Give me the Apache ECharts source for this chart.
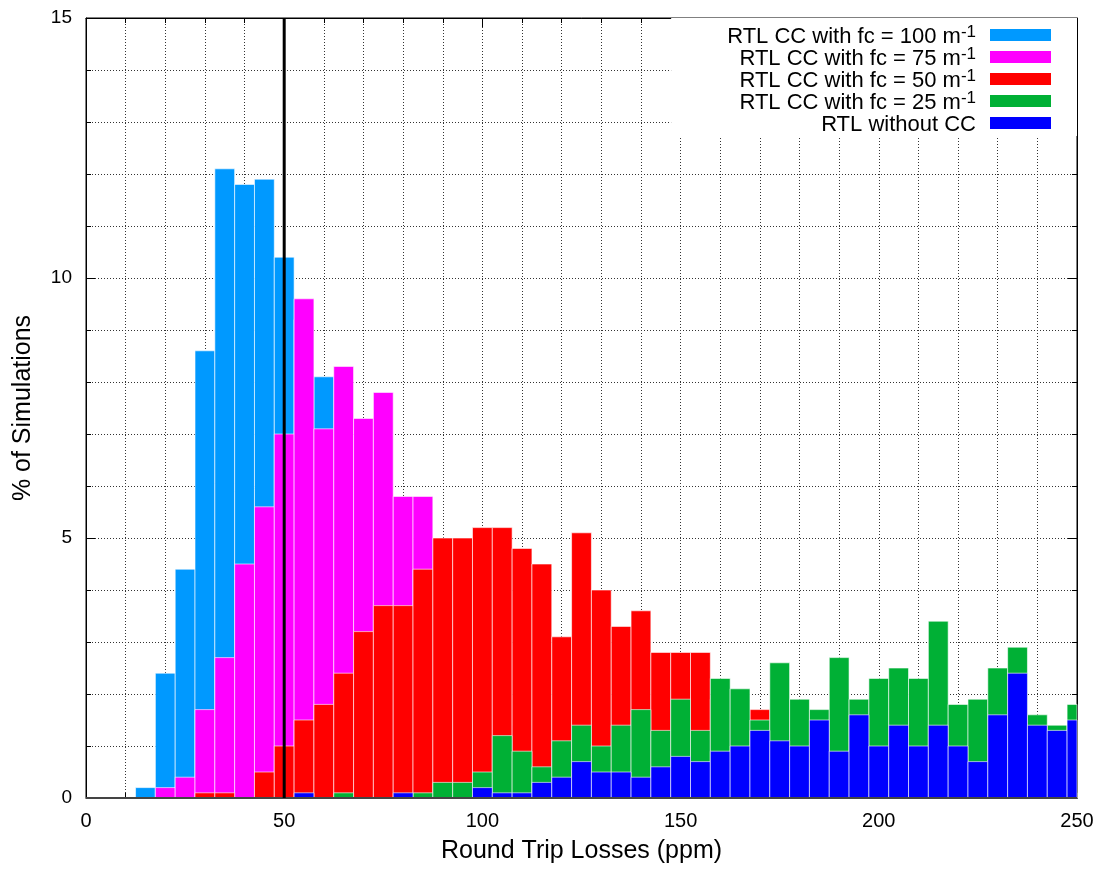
<!DOCTYPE html>
<html>
<head>
<meta charset="utf-8">
<title>Round Trip Losses histogram</title>
<script src="https://cdn.jsdelivr.net/npm/echarts@6/dist/echarts.min.js"></script>
<style>
  html, body { margin: 0; padding: 0; background: #fff; }
  #chart { width: 1097px; height: 870px; }
</style>
</head>
<body>
<div id="chart"></div>
<script>
// Histogram bins: centre of each 5 ppm wide bin
const binCenters = [15, 20, 25, 30, 35, 40, 45, 50, 55, 60, 65, 70, 75, 80, 85, 90,
  95, 100, 105, 110, 115, 120, 125, 130, 135, 140, 145, 150, 155, 160, 165, 170,
  175, 180, 185, 190, 195, 200, 205, 210, 215, 220, 225, 230, 235, 240, 245, 250];
const binWidth = 5;

// % of simulations per bin, one array per configuration
const rtlFc100 = [0.2, 2.4, 4.4, 8.6, 12.1, 11.8, 11.9, 10.4, 9.2, 8.1, 6.3, 4.6, 3.4, 2.3, 1.5, 0.9,
  0.6, 0.4, 0.2, 0.1, 0, 0, 0, 0, 0, 0, 0, 0, 0, 0, 0, 0,
  0, 0, 0, 0, 0, 0, 0, 0, 0, 0, 0, 0, 0, 0, 0, 0];
const rtlFc75 = [0, 0.2, 0.4, 1.7, 2.7, 4.5, 5.6, 7.0, 9.6, 7.1, 8.3, 7.3, 7.8, 5.8, 5.8, 4.1,
  3.3, 2.6, 1.9, 1.4, 1.0, 0.7, 0.5, 0.3, 0.2, 0.1, 0, 0, 0, 0, 0, 0,
  0, 0, 0, 0, 0, 0, 0, 0, 0, 0, 0, 0, 0, 0, 0, 0];
const rtlFc50 = [0, 0, 0, 0.1, 0.1, 0, 0.5, 1.0, 1.5, 1.8, 2.4, 3.2, 3.7, 3.7, 4.4, 5.0,
  5.0, 5.2, 5.2, 4.8, 4.5, 3.1, 5.1, 4.0, 3.3, 3.6, 2.8, 2.8, 2.8, 1.9, 1.6, 1.7,
  1.2, 0.9, 0.7, 0.6, 0.4, 0.3, 0.2, 0.2, 0.1, 0.1, 0.1, 0.1, 0.1, 0.1, 0.1, 0.1];
const rtlFc25 = [0, 0, 0, 0, 0, 0, 0, 0, 0, 0, 0.1, 0, 0, 0, 0.1, 0.3,
  0.3, 0.5, 1.2, 0.9, 0.6, 1.1, 1.4, 1.0, 1.4, 1.7, 1.3, 1.9, 1.3, 2.3, 2.1, 1.5,
  2.6, 1.9, 1.7, 2.7, 1.9, 2.3, 2.5, 2.3, 3.4, 1.8, 1.9, 2.5, 2.9, 1.6, 1.4, 1.8];
const rtlNoCC = [0, 0, 0, 0, 0, 0, 0, 0, 0.1, 0, 0, 0, 0, 0.1, 0, 0,
  0, 0.2, 0.1, 0.1, 0.3, 0.4, 0.7, 0.5, 0.5, 0.4, 0.6, 0.8, 0.7, 0.9, 1.0, 1.3,
  1.1, 1.0, 1.5, 0.9, 1.6, 1.0, 1.4, 1.0, 1.4, 1.0, 0.7, 1.6, 2.4, 1.4, 1.3, 1.5];

// Legend labels: main text and superscript unit exponent
const seriesNames = ['RTL CC with fc = 100 m-1', 'RTL CC with fc = 75 m-1',
  'RTL CC with fc = 50 m-1', 'RTL CC with fc = 25 m-1', 'RTL without CC'];
const legendMain = ['RTL CC with fc = 100 m', 'RTL CC with fc = 75 m',
  'RTL CC with fc = 50 m', 'RTL CC with fc = 25 m', 'RTL without CC'];
const legendSup = ['-1', '-1', '-1', '-1', ''];
const seriesValues = [rtlFc100, rtlFc75, rtlFc50, rtlFc25, rtlNoCC];
const seriesColors = ['#0099ff', '#ff00ff', '#ff0000', '#00b035', '#0000ff'];

// Reference loss marked with a vertical line
const referenceLoss = 50;

const xRange = [0, 250];
const yRange = [0, 15];

const FONT = '"Liberation Sans", Arial, Helvetica, sans-serif';
const gridLine = { color: '#333', width: 1, type: [1, 2] };

function renderBin(params, api) {
  const center = api.value(0);
  const value = api.value(1);
  if (!value) return null;
  const topLeft = api.coord([center - binWidth / 2, value]);
  const bottomRight = api.coord([center + binWidth / 2, 0]);
  const cs = params.coordSys;
  const shape = echarts.graphic.clipRectByRect(
    { x: topLeft[0], y: topLeft[1], width: bottomRight[0] - topLeft[0], height: bottomRight[1] - topLeft[1] },
    { x: cs.x, y: cs.y, width: cs.width, height: cs.height }
  );
  if (!shape) return null;
  return {
    type: 'rect',
    shape: shape,
    style: { fill: api.visual('color'), stroke: 'rgba(255,255,255,0.6)', lineWidth: 1 }
  };
}

const histogramSeries = seriesNames.map((name, i) => ({
  name: name,
  type: 'custom',
  renderItem: renderBin,
  encode: { x: 0, y: 1 },
  itemStyle: { color: seriesColors[i] },
  z: 2 + i,
  silent: true,
  data: binCenters.map((c, k) => [c, seriesValues[i][k]])
}));

const chart = echarts.init(document.getElementById('chart'), null, { renderer: 'canvas' });

chart.setOption({
  animation: false,
  backgroundColor: '#fff',
  textStyle: { fontFamily: FONT, color: '#000' },
  grid: {
    left: 86, right: 20, top: 18, bottom: 72,
    show: true, borderColor: '#000', borderWidth: 1, backgroundColor: 'transparent'
  },
  legend: {
    data: seriesNames,
    orient: 'vertical',
    align: 'right',
    right: 20,
    top: 18,
    padding: [4, 26, 0, 56],
    itemGap: -4,
    itemWidth: 61,
    itemHeight: 12,
    icon: 'rect',
    selectedMode: false,
    backgroundColor: '#fff',
    z: 20,
    formatter: function (name) {
      const i = seriesNames.indexOf(name);
      return legendSup[i]
        ? '{t|' + legendMain[i] + '}{s|' + legendSup[i] + '}{e| }'
        : '{t|' + legendMain[i] + '}{e| }';
    },
    textStyle: {
      fontFamily: FONT,
      color: '#000',
      rich: {
        t: { fontSize: 22, lineHeight: 22, padding: [4, 0, 0, 0], fontFamily: FONT, color: '#000' },
        s: { fontSize: 17, lineHeight: 11, verticalAlign: 'top', fontFamily: FONT, color: '#000' },
        e: { fontSize: 16, lineHeight: 2, width: 9 }
      }
    }
  },
  xAxis: [{
    type: 'value',
    min: xRange[0], max: xRange[1], interval: 50,
    name: 'Round Trip Losses (ppm)',
    nameLocation: 'middle',
    nameGap: 41,
    nameTextStyle: { fontSize: 25, fontFamily: FONT, color: '#000' },
    axisLine: { show: true, onZero: false, lineStyle: { color: '#000', width: 1 } },
    axisTick: { show: true, inside: true, length: 9, lineStyle: { color: '#000' } },
    minorTick: { show: true, splitNumber: 5, length: 5, lineStyle: { color: '#000' } },
    axisLabel: { fontSize: 20, margin: 13, color: '#000', fontFamily: FONT },
    splitLine: { show: true, lineStyle: gridLine },
    minorSplitLine: { show: true, lineStyle: gridLine }
  }, {
    type: 'value',
    position: 'top',
    min: xRange[0], max: xRange[1], interval: 50,
    axisLine: { show: true, onZero: false, lineStyle: { color: '#000', width: 1 } },
    axisTick: { show: true, inside: true, length: 9, lineStyle: { color: '#000' } },
    minorTick: { show: true, splitNumber: 5, length: 5, lineStyle: { color: '#000' } },
    axisLabel: { show: false },
    splitLine: { show: false }
  }],
  yAxis: [{
    type: 'value',
    min: yRange[0], max: yRange[1], interval: 5,
    name: '% of Simulations',
    nameLocation: 'middle',
    nameGap: 50,
    nameTextStyle: { fontSize: 25, fontFamily: FONT, color: '#000' },
    axisLine: { show: true, onZero: false, lineStyle: { color: '#000', width: 1 } },
    axisTick: { show: true, inside: true, length: 9, lineStyle: { color: '#000' } },
    minorTick: { show: true, splitNumber: 5, length: 5, lineStyle: { color: '#000' } },
    axisLabel: { fontSize: 19, margin: 14, color: '#000', fontFamily: FONT },
    splitLine: { show: true, lineStyle: gridLine },
    minorSplitLine: { show: true, lineStyle: gridLine }
  }, {
    type: 'value',
    position: 'right',
    min: yRange[0], max: yRange[1], interval: 5,
    axisLine: { show: true, onZero: false, lineStyle: { color: '#000', width: 1 } },
    axisTick: { show: true, inside: true, length: 9, lineStyle: { color: '#000' } },
    minorTick: { show: true, splitNumber: 5, length: 5, lineStyle: { color: '#000' } },
    axisLabel: { show: false },
    splitLine: { show: false }
  }],
  series: histogramSeries.concat([{
    // baseline of the plot, drawn over the boxes
    name: 'baseline',
    type: 'line',
    data: [[xRange[0], yRange[0]], [xRange[1], yRange[0]]],
    symbol: 'none',
    silent: true,
    z: 9,
    lineStyle: { color: '#444', width: 2 }
  }, {
    name: 'reference loss',
    type: 'line',
    data: [[referenceLoss, yRange[0]], [referenceLoss, yRange[1]]],
    symbol: 'none',
    silent: true,
    z: 10,
    lineStyle: { color: '#000', width: 3 }
  }])
});
</script>
</body>
</html>
